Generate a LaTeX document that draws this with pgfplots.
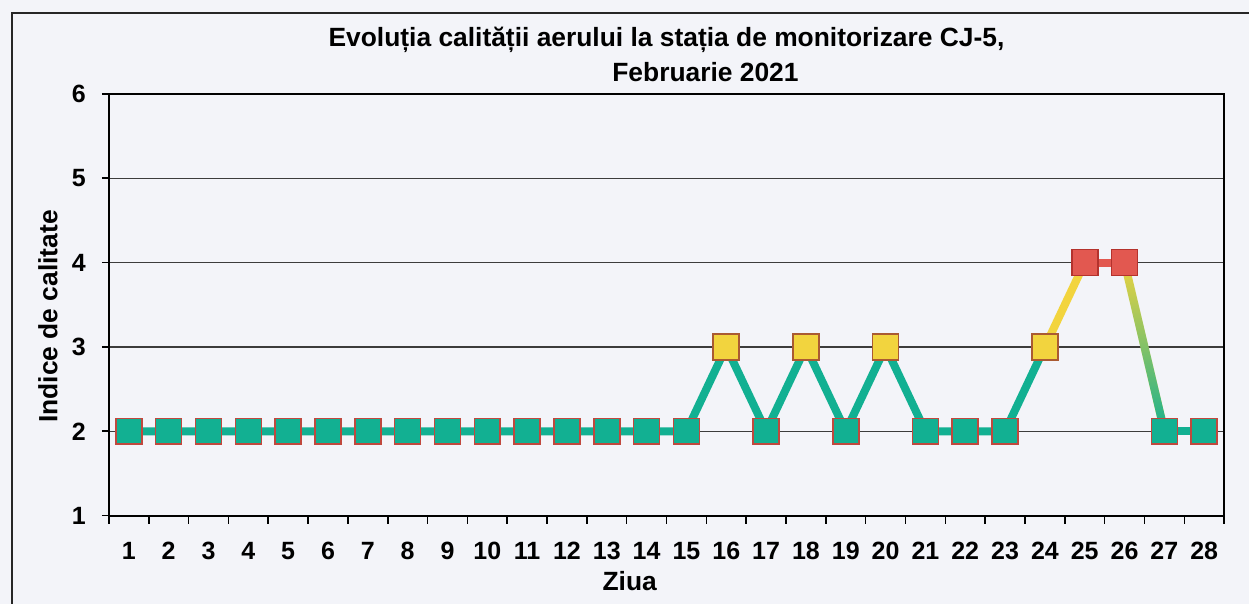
\documentclass[border=0pt]{standalone}
\usepackage{fontspec}
\setmainfont{Liberation Sans}
\usepackage{pgfplots}
\pgfplotsset{compat=1.18}
\usetikzlibrary{fadings}
\tikzfading[name=tealfade, top color=transparent!100, middle color=transparent!75, bottom color=transparent!0]
\definecolor{teal1}{RGB}{18,176,146}
\definecolor{yel}{RGB}{242,212,62}
\definecolor{redm}{RGB}{226,88,80}
\definecolor{bordr}{RGB}{192,72,62}
\definecolor{bordy}{RGB}{170,90,50}
\definecolor{bordrr}{RGB}{180,50,45}
\definecolor{bg}{RGB}{243,244,249}
\definecolor{gridc}{RGB}{60,60,60}
\begin{document}
\begin{tikzpicture}
\fill[bg] (-54.5pt,-44pt) rectangle (570.5pt,258pt);
\draw[line width=0.9pt, black!85] (-48.5pt,-44pt) -- (-48.5pt,251.5pt) -- (570.5pt,251.5pt);
\begin{axis}[
  scale only axis, width=558pt, height=211pt,
  xmin=0.5, xmax=28.5, ymin=1, ymax=6,
  xtick={1,...,28}, ytick={1,...,6},
  minor xtick={0.5,1.5,...,28.5},
  major x tick style={draw=none},
  minor tick length=4pt, major tick length=3.5pt,
  tick align=outside, tick pos=left,
  ymajorgrids, grid style={gridc, line width=0.6pt},
  axis line style={black, line width=0.9pt},
  tick style={black, line width=0.8pt},
  ticklabel style={font=\fontsize{12.5}{14}\selectfont\bfseries},
  /pgf/number format/assume math mode=true,
  xticklabel style={anchor=center, yshift=-14pt},
  yticklabel style={anchor=center, xshift=-11.5pt},
  xlabel={Ziua}, ylabel={Indice de calitate},
  label style={font=\fontsize{13.2}{15}\selectfont\bfseries},
  xlabel style={at={(axis description cs:0.467,-0.155)}, anchor=center},
  ylabel style={at={(axis description cs:-0.0547,0.472)}, anchor=center},
  title={Evoluția calității aerului la stația de monitorizare CJ-5,\\\hspace*{39pt}Februarie 2021},
  title style={font=\fontsize{13.2}{17.5}\selectfont\bfseries, align=center, at={(axis description cs:0.5,1)}, anchor=center, yshift=13.75pt},
  clip=false,
]
% lines
\addplot[teal1, line width=4pt] coordinates {(1,2)(2,2)(3,2)(4,2)(5,2)(6,2)(7,2)(8,2)(9,2)(10,2)(11,2)(12,2)(13,2)(14,2)(15,2)(16,3)(17,2)(18,3)(19,2)(20,3)(21,2)(22,2)(23,2)(24,3)};
\addplot[yel, line width=4pt] coordinates {(24,3)(25,4)};
\addplot[redm, line width=4pt] coordinates {(25,4)(26,4)};
\addplot[yel, line width=4pt] coordinates {(26,4)(27,2)};
\addplot[teal1, line width=4pt, path fading=tealfade] coordinates {(26,4)(27,2)};
\addplot[teal1, line width=4pt] coordinates {(27,2)(28,2)};
% markers
\addplot[only marks, mark=square*, mark size=6.5pt, mark options={fill=teal1, draw=bordr, line width=0.8pt}] coordinates {(1,2)(2,2)(3,2)(4,2)(5,2)(6,2)(7,2)(8,2)(9,2)(10,2)(11,2)(12,2)(13,2)(14,2)(15,2)(17,2)(19,2)(21,2)(22,2)(23,2)(27,2)(28,2)};
\addplot[only marks, mark=square*, mark size=6.5pt, mark options={fill=yel, draw=bordy, line width=0.8pt}] coordinates {(16,3)(18,3)(20,3)(24,3)};
\addplot[only marks, mark=square*, mark size=6.5pt, mark options={fill=redm, draw=bordrr, line width=0.8pt}] coordinates {(25,4)(26,4)};
\end{axis}
\end{tikzpicture}
\end{document}
